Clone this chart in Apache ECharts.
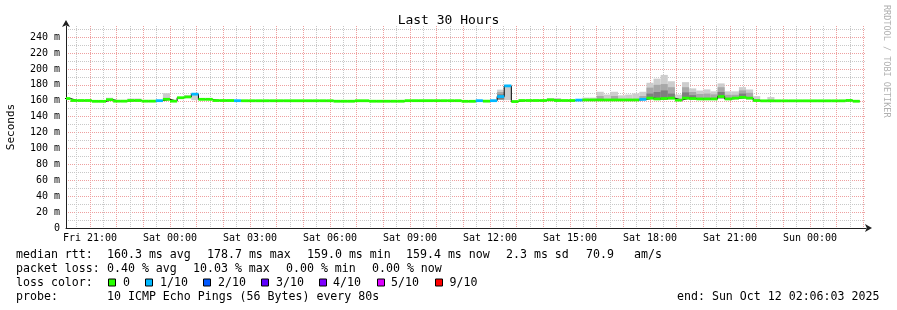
<!DOCTYPE html>
<html><head><meta charset="utf-8">
<script src="https://cdn.jsdelivr.net/npm/echarts@6/dist/echarts.min.js"></script>
<style>html,body{margin:0;padding:0;background:#fff}#c{width:897px;height:310px}</style>
</head><body><div id="c"></div>
<script>
// time unit: minutes since Fri 20:00 ; plot spans Fri 20:06 .. Sun 02:06
const START_MIN = 6, END_MIN = 1806, BIN = 16;
const xLabelMinutes = [60, 240, 420, 600, 780, 960, 1140, 1320, 1500, 1680];
const xLabels = ['Fri 21:00','Sat 00:00','Sat 03:00','Sat 06:00','Sat 09:00','Sat 12:00','Sat 15:00','Sat 18:00','Sat 21:00','Sun 00:00'];

// median RTT (ms) per 16-minute bin
const median = [
162.8,160.3,160.3,160.3,159.3,159.3,161.3,159.5,159.5,160.3,
160.3,159.5,159.5,160.1,161.8,159.5,163.8,164.8,168.3,161.8,
161.8,160.3,160.3,160.3,160.1,160.0,160.0,160.0,160.0,160.0,
160.0,160.0,160.0,160.0,160.0,160.0,160.0,160.0,159.4,159.4,
159.4,160.0,160.0,159.4,159.4,159.4,159.4,159.4,160.1,160.1,
160.1,160.1,160.1,160.1,160.1,160.1,159.3,159.3,160.1,159.5,
160.1,165.3,178.7,159.0,160.3,160.3,160.3,160.3,161.1,160.3,
160.3,160.3,160.8,161.0,161.0,161.0,161.0,161.0,161.0,161.0,
161.0,161.8,163.3,162.3,162.8,163.3,160.8,163.3,162.8,162.3,
162.3,162.3,165.3,162.3,163.3,164.3,163.3,160.3,159.9,159.9,
159.9,159.9,159.9,159.9,159.9,159.9,159.9,159.9,159.9,159.9,
160.4,159.4
];
// bins with packet loss (count out of 10)
const lossBins  = [13,18,24,58,60,61,62,72,81];
const lossCount = [1, 1, 1, 1, 1, 1, 1, 1, 1];

// smoke (ping spread) per bin
const smokeBins = [6,9,10,14,17,18,61,62,68,69,73,74,75,76,77,78,79,80,81,82,83,84,85,86,87,88,89,90,91,92,93,94,95,96,97,99];
const smokeLo   = [160.3,159.5,159.5,161,164,160.8,161.5,160.8,160.3,159.5,160.3,160.3,160.3,160.3,160.3,160.3,160.3,160.3,160.8,162,161.3,161.5,162,160,162,161.8,161.3,161.3,161.3,163,161.3,162,163,162,159.5,159];
const smokeHi   = [163.8,162.8,162.8,169.5,167,168.5,174,178,163.5,163.5,164,164,171.3,167.8,171.3,166.8,167.8,169.2,171.3,182.6,187.8,192.5,184.5,167.8,183.4,175.5,172.8,174.3,171.8,181.8,171.8,171.8,177.1,174.2,165.8,164.6];
const smokeMid  = [null,null,null,null,null,null,171,null,null,null,null,null,166,null,166,null,null,null,166,176.5,180,181,177,null,177,171,168.5,169,168,177,167.5,167.5,173,170,null,null];
const smokeDark = [null,null,null,null,null,null,168,null,null,null,null,null,null,null,null,null,null,null,null,169,171,173,169,null,170.5,167,null,null,null,171,null,null,169,null,null,null];

const lossColors = ['#26ff00','#00b8ff','#0059ff','#5e00ff','#7e00ff','#dd00ff','#dd00ff','#dd00ff','#dd00ff','#ff0000','#ff0000'];
const legendLoss = [['0',0],['1/10',1],['2/10',2],['3/10',3],['4/10',4],['5/10',5],['9/10',9]];

const MONO = 'DejaVu Sans Mono';
const chart = echarts.init(document.getElementById('c'), null, {renderer:'canvas'});

const lossOf = i => { const k = lossBins.indexOf(i); return k < 0 ? 0 : lossCount[k]; };
const medianRows = median.map((v,i) => [i*BIN, (i+1)*BIN, v, lossOf(i)]);
const stepLine = median.map((v,i) => [i*BIN, v]).concat([[median.length*BIN, median[median.length-1]]]);
function smokeRows(tops){
  const rows = [];
  smokeBins.forEach((b,k) => { if (tops[k] != null) rows.push([b*BIN, (b+1)*BIN, smokeLo[k], tops[k]]); });
  return rows;
}
function clipRect(params, r){
  const cs = params.coordSys;
  return echarts.graphic.clipRectByRect(r, {x:cs.x, y:cs.y, width:cs.width, height:cs.height});
}
function smokeSeries(tops, color, z){
  return {
    type:'custom', data: smokeRows(tops), encode:{x:[0,1], y:[2,3]}, silent:true, z,
    renderItem(params, api){
      const a = api.coord([api.value(0), api.value(3)]);
      const b = api.coord([api.value(1), api.value(2)]);
      const shape = clipRect(params, {x:a[0], y:a[1], width:b[0]-a[0], height:b[1]-a[1]});
      return shape && {type:'rect', shape, style:{fill:color}};
    }
  };
}
// grid positions: full hours (major) and half hours (minor)
const hourTicks = [], halfTicks = [];
for (let m = 60; m <= 1800; m += 60) hourTicks.push(m);
for (let m = 30; m <= 1800; m += 60) halfTicks.push(m);
const minorY = []; for (let v = 10; v <= 250; v += 20) minorY.push(v);

const graphics = [];
function txt(x, y, s){ graphics.push({type:'text', x, y, silent:true, style:{text:s, font:'11.6px "'+MONO+'"', fill:'#000', textVerticalAlign:'middle'}}); }
const R1=254.5, R2=268.5, R3=282.5, R4=296.5;
txt(16,R1,'median rtt:'); txt(107,R1,'160.3 ms avg'); txt(207,R1,'178.7 ms max'); txt(307,R1,'159.0 ms min');
txt(406,R1,'159.4 ms now'); txt(506,R1,'2.3 ms sd'); txt(586,R1,'70.9'); txt(634,R1,'am/s');
txt(16,R2,'packet loss:'); txt(107,R2,'0.40 % avg'); txt(193,R2,'10.03 % max'); txt(286,R2,'0.00 % min'); txt(372,R2,'0.00 % now');
txt(16,R3,'loss color:');
const sqX = [108.5,145.5,203.5,261.5,319.5,377.5,435.5];
const lbX = [123,160,218,276,333,391,449.5];
legendLoss.forEach((e,i) => {
  graphics.push({type:'rect', silent:true, shape:{x:sqX[i], y:279, width:7, height:7}, style:{fill:lossColors[e[1]], stroke:'#000', lineWidth:1}});
  txt(lbX[i], R3, e[0]);
});
txt(16,R4,'probe:'); txt(107,R4,'10 ICMP Echo Pings (56 Bytes) every 80s'); txt(677,R4,'end: Sun Oct 12 02:06:03 2025');
graphics.push({type:'text', x:886, y:5, rotation:-Math.PI/2, silent:true,
  style:{text:'RRDTOOL / TOBI OETIKER', font:'8.5px "'+MONO+'"', fill:'#b0b0b0', textVerticalAlign:'middle', textAlign:'left'}});

const RED = '#eea0a0', GREY = '#c8c8c8', AXIS = '#1f1f1f';
chart.setOption({
  animation:false,
  backgroundColor:'#fff',
  title:{text:'Last 30 Hours', left:'center', top:9, textStyle:{fontFamily:MONO, fontSize:13, fontWeight:'normal', color:'#000'}},
  grid:{left:66, right:31, top:26, bottom:82, containLabel:false, outerBoundsMode:'none'},
  xAxis:[{
    type:'value', min:START_MIN, max:END_MIN,
    axisLine:{show:true, lineStyle:{color:AXIS, width:1}, symbol:['none','arrow'], symbolSize:[6,7], symbolOffset:[0,6]},
    axisTick:{show:false, customValues:hourTicks},
    axisLabel:{customValues:xLabelMinutes, formatter:v => xLabels[xLabelMinutes.indexOf(v)] || '', fontFamily:MONO, fontSize:10, color:'#000', margin:5},
    splitLine:{show:true, lineStyle:{color:RED, type:[1,1], width:1}}
  },{
    type:'value', min:START_MIN, max:END_MIN, position:'bottom',
    axisLine:{show:false}, axisTick:{show:false, customValues:halfTicks}, axisLabel:{show:false},
    splitLine:{show:true, lineStyle:{color:GREY, type:[1,1], width:1}}
  }],
  yAxis:[{
    type:'value', min:0, max:254, interval:20,
    name:'Seconds', nameLocation:'middle', nameGap:49, nameTextStyle:{fontFamily:MONO, fontSize:11, color:'#000'},
    axisLine:{show:true, lineStyle:{color:AXIS, width:1}, symbol:['none','arrow'], symbolSize:[6,7], symbolOffset:[0,6]},
    axisTick:{show:false},
    axisLabel:{showMaxLabel:false, formatter:v => v===0 ? '0' : (v%20===0 && v<=240 ? v+' m' : ''), fontFamily:MONO, fontSize:10, color:'#000', margin:6},
    splitLine:{show:true, showMaxLine:false, lineStyle:{color:RED, type:[1,1], width:1}}
  },{
    type:'value', min:0, max:254, position:'left',
    axisLine:{show:false}, axisTick:{show:false, customValues:minorY}, axisLabel:{show:false},
    splitLine:{show:true, lineStyle:{color:GREY, type:[1,1], width:1}}
  }],
  series:[
    smokeSeries(smokeHi, '#cdcdcd', 1),
    smokeSeries(smokeMid, '#a8a8a8', 1),
    smokeSeries(smokeDark, '#7e7e7e', 1),
    {type:'line', step:'end', data:stepLine, symbol:'none', silent:true, z:2, lineStyle:{color:'#000', width:1}},
    {type:'custom', data:medianRows, encode:{x:[0,1], y:2}, silent:true, z:3,
     renderItem(params, api){
       const a = api.coord([api.value(0), api.value(2)]);
       const b = api.coord([api.value(1), api.value(2)]);
       const shape = clipRect(params, {x:a[0], y:a[1]-1.4, width:b[0]-a[0], height:2.8});
       return shape && {type:'rect', shape, style:{fill:lossColors[api.value(3)]}};
     }}
  ],
  graphic:graphics
});
</script></body></html>
